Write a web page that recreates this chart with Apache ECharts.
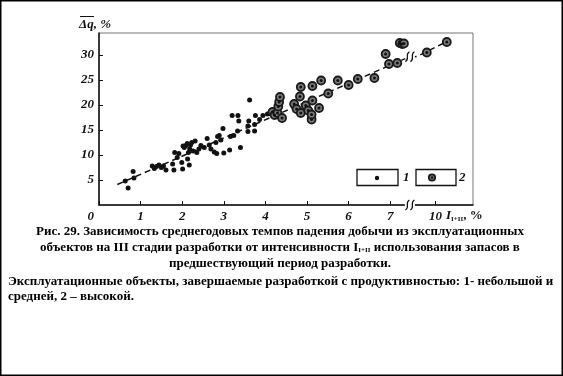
<!DOCTYPE html>
<html><head><meta charset="utf-8">
<script src="https://cdn.jsdelivr.net/npm/echarts@6/dist/echarts.min.js"></script>
<style>html,body{margin:0;padding:0;background:#fff}#c{width:563px;height:376px}</style>
</head><body><div id="c"></div>
<script>
// Group 1: small / medium productivity objects (I, %; Δq, %)
const group1 = [
  [0.63,4.8],[0.70,3.4],[0.82,6.7],[0.84,5.4],
  [1.28,7.8],[1.33,7.3],[1.38,7.7],[1.44,8.0],[1.50,7.5],[1.55,7.8],[1.61,7.0],
  [1.77,8.2],[1.80,7.0],[1.82,10.5],[1.88,9.5],[1.92,10.3],
  [1.99,8.5],[2.01,7.2],[2.02,11.8],[2.05,11.5],[2.09,11.9],[2.12,12.3],[2.13,9.2],
  [2.15,10.5],[2.17,8.0],[2.18,11.2],[2.20,12.0],[2.23,12.5],[2.26,10.8],[2.31,12.8],
  [2.35,10.5],[2.40,11.2],[2.45,11.9],[2.53,11.5],
  [2.60,13.3],[2.65,12.0],[2.69,11.2],[2.77,10.6],[2.83,10.3],[2.81,12.5],[2.85,13.7],
  [2.89,13.9],[2.93,13.0],[2.98,15.3],[3.00,10.4],[3.14,11.0],[3.16,13.7],
  [3.20,17.9],[3.24,13.9],[3.33,14.8],[3.34,17.9],[3.36,16.8],[3.40,11.5],
  [3.58,14.7],[3.58,15.8],[3.60,16.8],[3.62,21.0],[3.74,16.1],[3.74,14.8],[3.76,17.9],
  [3.86,17.1],[3.94,17.9],[4.05,18.2],[4.13,18.3]
];
// Group 2: high productivity objects
const group2 = [
  [4.17,18.6],[4.22,18.0],[4.29,18.4],[4.31,19.7],[4.33,20.6],[4.35,21.6],[4.40,17.4],
  [4.69,20.2],[4.75,19.2],[4.83,21.7],[4.85,23.6],[4.85,18.4],[4.97,19.9],
  [5.03,18.9],[5.11,17.1],[5.11,18.1],[5.13,20.9],[5.13,23.8],[5.29,19.4],[5.34,24.9],
  [5.51,22.3],[5.74,24.9],[6.00,24.0],[6.22,25.2],[6.62,25.4],[6.89,30.2],[6.97,28.2],
  [7.17,28.4],[7.23,32.4],[7.29,32.2],[7.33,32.3],[9.79,30.5],[10.27,32.6]
];
// Dashed trend line
const trendLine = [[0.44,4.1],[7.45,29.6],[9.55,29.7],[10.3,32.8]];
const xBreak = [7.5, 9.5];
const xMax = 10.9, yMax = 34.4;
const xTickValues = [0, 1, 2, 3, 4, 5, 6, 7, 10];
const yTickValues = [5, 10, 15, 20, 25, 30];
const legendLabels = ['1', '2'];
const yName = 'Δq, %';
const captionLines = [
  'Рис. 29. Зависимость среднегодовых темпов падения добычи из эксплуатационных',
  'объектов на III стадии разработки от интенсивности I{s|I+II} использования запасов в',
  'предшествующий период разработки.'
];
const noteLines = [
  'Эксплуатационные объекты, завершаемые разработкой с продуктивностью: 1- небольшой и',
  'средней, 2 – высокой.'
];

const serif = '"Liberation Serif", "DejaVu Serif", serif';
const lab = {fontFamily: serif, fontStyle: 'italic', fontWeight: 'bold', fontSize: 13, color: '#111'};
const chart = echarts.init(document.getElementById('c'), null, {renderer: 'canvas'});

chart.setOption({
  animation: false,
  grid: {left: 99, right: 90, top: 33, bottom: 171, show: true, borderColor: '#777', borderWidth: 1},
  xAxis: {
    type: 'value', min: 0, max: xMax, interval: 1,
    breaks: [{start: xBreak[0], end: xBreak[1], gap: '1%'}],
    breakArea: {show: true, itemStyle: {color: 'rgba(0,0,0,0)', borderColor: 'rgba(0,0,0,0)', borderWidth: 0}},
    axisLine: {lineStyle: {color: '#111', width: 1.5}},
    axisTick: {inside: true, length: 4, customValues: xTickValues, lineStyle: {color: '#111', width: 1}},
    splitLine: {show: false},
    axisLabel: Object.assign({}, lab, {
      margin: 5, customValues: xTickValues, hideOverlap: false, alignMinLabel: 'right',
      formatter: function (v) { return v === 0 ? '{z|0}' : String(v); },
      rich: {z: Object.assign({}, lab, {padding: [0, 5, 0, 0]})}
    })
  },
  yAxis: {
    type: 'value', min: 0, max: yMax, interval: 5,
    axisLine: {show: true, lineStyle: {color: '#111', width: 1.5}},
    axisTick: {show: true, inside: true, length: 4, customValues: yTickValues, lineStyle: {color: '#111', width: 1}},
    splitLine: {show: false},
    axisLabel: Object.assign({}, lab, {margin: 5, customValues: yTickValues})
  },
  series: [
    {type: 'line', data: trendLine, symbol: 'none', z: 1,
     lineStyle: {color: '#111', width: 1.5, type: [6, 4]}},
    {type: 'scatter', data: group1, symbol: 'circle', symbolSize: 5, z: 3,
     itemStyle: {color: '#111', opacity: 1}},
    {type: 'scatter', data: group2, symbol: 'circle', symbolSize: 8, z: 3,
     itemStyle: {color: '#7a7a7a', borderColor: '#1a1a1a', borderWidth: 1.8, opacity: 1}},
    {type: 'scatter', data: group2, symbol: 'circle', symbolSize: 3, z: 4,
     itemStyle: {color: '#111', opacity: 1}}
  ]
});

function breakMark(cx, cy) {
  const out = [{type: 'rect', shape: {x: cx - 5, y: cy - 2, width: 10, height: 4}, style: {fill: '#fff'}, z: 50}];
  [-2.5, 2.5].forEach(function (d) {
    out.push({type: 'bezierCurve', z: 51,
      shape: {x1: cx + d - 2, y1: cy + 5, cpx1: cx + d + 3, cpy1: cy + 2, cpx2: cx + d - 3, cpy2: cy - 2, x2: cx + d + 2, y2: cy - 5},
      style: {stroke: '#111', lineWidth: 1.2, fill: null}});
  });
  return out;
}
const pA = chart.convertToPixel({gridIndex: 0}, [xBreak[0], 0]);
const pB = chart.convertToPixel({gridIndex: 0}, [xBreak[1], 0]);
const bx = (pA[0] + pB[0]) / 2 - 3;
const lineY = chart.convertToPixel({gridIndex: 0}, [xBreak[0], 29.65])[1];

const txt = function (x, y, text, font, align) {
  return {type: 'text', x: x, y: y, z: 41, style: {text: text, font: font, fill: '#111', align: align, verticalAlign: 'middle', textAlign: align, textVerticalAlign: 'middle'}};
};
let g = [];
g = g.concat(breakMark(bx, pA[1]), breakMark(bx, lineY));
// legend boxes
g.push({type: 'rect', shape: {x: 357, y: 169.5, width: 41, height: 16}, style: {fill: '#fff', stroke: '#111', lineWidth: 1.3}, z: 40});
g.push({type: 'circle', shape: {cx: 377, cy: 178, r: 2.2}, style: {fill: '#111'}, z: 41});
g.push(txt(403, 178, legendLabels[0], 'italic bold 13px ' + serif, 'left'));
g.push({type: 'rect', shape: {x: 416, y: 169.5, width: 40, height: 16}, style: {fill: '#fff', stroke: '#111', lineWidth: 1.3}, z: 40});
g.push({type: 'circle', shape: {cx: 432, cy: 177.5, r: 3.2}, style: {fill: '#7a7a7a', stroke: '#1a1a1a', lineWidth: 1.8}, z: 41});
g.push({type: 'circle', shape: {cx: 432, cy: 177.5, r: 1.3}, style: {fill: '#111'}, z: 42});
g.push(txt(459, 178, legendLabels[1], 'italic bold 13px ' + serif, 'left'));
// axis names
g.push(txt(79, 25, yName, 'italic bold 13px ' + serif, 'left'));
g.push({type: 'line', shape: {x1: 80, y1: 16.5, x2: 94, y2: 16.5}, style: {stroke: '#111', lineWidth: 1}, z: 41});
g.push({type: 'text', x: 446, y: 216, style: {
  text: '{i|I}{s|I+II}{n|, %}', align: 'left', verticalAlign: 'middle', textAlign: 'left', textVerticalAlign: 'middle',
  rich: {
    i: {fontFamily: serif, fontStyle: 'italic', fontWeight: 'bold', fontSize: 13, fill: '#111', color: '#111'},
    s: {fontFamily: serif, fontWeight: 'bold', fontSize: 7, fill: '#111', color: '#111', padding: [6, 0, 0, 0]},
    n: {fontFamily: serif, fontWeight: 'bold', fontSize: 13, fill: '#111', color: '#111'}
  }}, z: 41});
// caption
const capY = [232, 248, 264];
captionLines.forEach(function (t, i) {
  g.push({type: 'text', x: 280, y: capY[i], style: {
    text: t, font: 'bold 13px ' + serif, fill: '#000', align: 'center', verticalAlign: 'middle', textAlign: 'center', textVerticalAlign: 'middle',
    rich: {s: {fontFamily: serif, fontWeight: 'bold', fontSize: 7, fill: '#000', color: '#000', padding: [5, 0, 0, 0]}}
  }, z: 41});
});
const noteY = [282, 297];
noteLines.forEach(function (t, i) {
  g.push({type: 'text', x: 8, y: noteY[i], style: {
    text: t, font: 'bold 13px ' + serif, fill: '#000', align: 'left', verticalAlign: 'middle', textAlign: 'left', textVerticalAlign: 'middle'
  }, z: 41});
});
// outer frame
g.push({type: 'rect', shape: {x: 0.75, y: 0.75, width: 561.5, height: 374.5}, style: {fill: null, stroke: '#000', lineWidth: 1.5}, z: 60});
chart.setOption({graphic: g});
</script>
</body></html>
